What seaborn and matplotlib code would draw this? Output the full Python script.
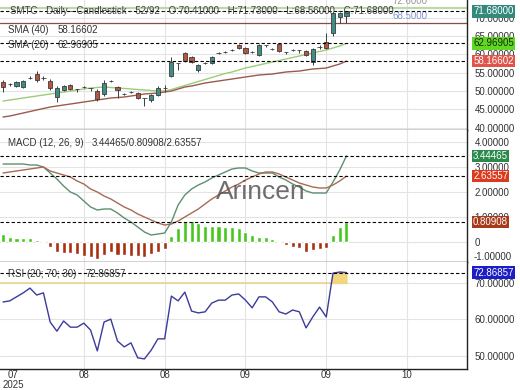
import matplotlib
matplotlib.use("Agg")
import matplotlib.pyplot as plt
from matplotlib.ticker import FuncFormatter
import seaborn as sns
import numpy as np
import pandas as pd

# daily candles (SMTC)
opens = [52.47, 51.90, 51.38, 51.10, 53.50, 54.65, 53.60, 52.74, 48.38, 50.29,
         51.65, 50.60, 51.00, 50.85, 50.01, 49.20, 52.70, 51.10, 49.20, 49.70,
         49.47, 48.15, 47.56, 48.92, 50.80, 54.10, 57.65, 60.37, 59.28, 55.74,
         57.60, 57.64, 60.30, 60.60, 61.20, 62.55, 61.73, 60.60, 59.82, 62.60,
         61.40, 62.82, 60.70, 61.20, 61.20, 60.91, 57.92, 62.00, 63.37, 65.82,
         70.18, 70.41]
highs = [53.01, 52.30, 52.80, 53.00, 54.00, 55.46, 54.00, 53.28, 51.38, 51.70,
         51.90, 50.60, 51.40, 50.90, 50.56, 53.01, 53.10, 51.38, 49.50, 50.10,
         49.74, 48.20, 49.20, 51.38, 51.65, 59.28, 57.70, 60.64, 59.50, 57.37,
         58.00, 59.50, 60.70, 60.90, 61.50, 62.80, 62.00, 60.90, 62.80, 62.60,
         61.80, 63.10, 60.70, 61.50, 61.20, 61.10, 61.70, 62.50, 65.82, 71.50,
         71.60, 71.73]
lows = [49.74, 51.50, 51.10, 50.90, 53.20, 52.47, 53.10, 50.29, 47.02, 50.00,
        50.30, 49.80, 50.70, 50.00, 47.29, 48.65, 52.40, 48.11, 48.90, 49.40,
        47.83, 45.93, 47.00, 48.65, 49.74, 53.83, 55.70, 57.92, 57.70, 55.19,
        57.30, 57.40, 60.10, 60.40, 60.90, 61.50, 60.10, 60.30, 59.60, 61.90,
        61.20, 60.70, 60.00, 60.90, 60.40, 59.60, 57.10, 61.50, 61.50, 65.00,
        68.54, 68.56]
closes = [51.10, 51.95, 52.47, 52.74, 53.60, 53.01, 53.50, 50.83, 50.83, 51.38,
          50.56, 50.50, 51.10, 50.80, 47.83, 52.19, 52.80, 50.29, 49.25, 49.80,
          48.11, 48.10, 48.92, 50.83, 50.90, 57.92, 57.60, 58.19, 57.92, 57.10,
          57.70, 59.28, 60.40, 60.70, 61.25, 61.73, 60.37, 60.70, 62.55, 62.55,
          61.50, 60.91, 60.65, 61.15, 61.15, 59.82, 61.46, 62.10, 61.73, 71.27,
          71.27, 71.68]

sma20 = [47.29, 47.56, 47.83, 48.11, 48.38, 48.65, 48.92, 49.20, 49.47, 49.74,
         50.01, 50.29, 50.56, 50.83, 50.97, 51.10, 50.97, 50.83, 50.70, 50.56,
         50.42, 50.29, 50.15, 50.01, 50.01, 50.42, 50.97, 51.51, 52.06, 52.60,
         53.15, 53.69, 54.24, 54.78, 55.19, 55.74, 56.28, 56.69, 57.10, 57.51,
         57.92, 58.32, 58.73, 59.14, 59.55, 59.96, 60.37, 60.78, 61.19, 61.73,
         62.28, 62.96905]
sma40 = [42.93, 43.20, 43.61, 44.02, 44.43, 44.84, 45.25, 45.65, 45.93, 46.20,
         46.47, 46.74, 47.02, 47.29, 47.56, 47.83, 48.11, 48.24, 48.38, 48.65,
         48.92, 49.20, 49.33, 49.47, 49.74, 50.01, 50.56, 51.10, 51.38, 51.78,
         52.19, 52.47, 52.74, 53.01, 53.28, 53.56, 53.83, 54.10, 54.37, 54.51,
         54.65, 54.92, 55.19, 55.33, 55.46, 55.74, 56.01, 56.14, 56.28, 56.83,
         57.37, 58.16602]

macd = [3.12, 3.12, 3.12, 3.12, 3.08, 3.08, 3.00, 2.76, 2.52, 2.24,
        2.00, 1.88, 1.64, 1.40, 1.28, 1.32, 1.32, 1.16, 0.96, 0.80,
        0.60, 0.40, 0.28, 0.32, 0.36, 0.80, 1.48, 1.88, 2.12, 2.28,
        2.40, 2.56, 2.68, 2.80, 2.92, 2.96, 2.96, 2.84, 2.76, 2.76,
        2.76, 2.60, 2.48, 2.32, 2.20, 2.04, 1.96, 1.96, 1.96, 2.40,
        2.88, 3.44465]
signal = [2.76, 2.80, 2.84, 2.88, 2.92, 2.96, 3.00, 2.84, 2.76, 2.68,
          2.60, 2.44, 2.32, 2.12, 2.00, 1.84, 1.72, 1.56, 1.40, 1.28,
          1.12, 1.00, 0.88, 0.76, 0.68, 0.72, 0.84, 1.00, 1.16, 1.32,
          1.52, 1.72, 1.88, 2.04, 2.20, 2.32, 2.48, 2.60, 2.72, 2.80,
          2.80, 2.72, 2.60, 2.48, 2.36, 2.28, 2.20, 2.16, 2.16, 2.28,
          2.44, 2.63557]
hist = [0.32, 0.20, 0.16, 0.16, 0.16, 0.08, 0.04, -0.20, -0.40, -0.44,
        -0.44, -0.48, -0.56, -0.60, -0.68, -0.52, -0.40, -0.52, -0.52, -0.56,
        -0.56, -0.60, -0.48, -0.40, -0.28, 0.24, 0.56, 0.84, 0.84, 0.76,
        0.64, 0.64, 0.64, 0.60, 0.58, 0.56, 0.40, 0.26, 0.20, 0.20,
        0.12, 0.02, -0.12, -0.20, -0.24, -0.40, -0.32, -0.28, -0.24, 0.28,
        0.60, 0.80908]

rsi = [64.8, 65.1, 66.2, 67.3, 68.6, 66.7, 67.3, 59.3, 56.8, 59.6,
       57.9, 57.9, 59.0, 57.1, 51.4, 59.3, 60.1, 54.1, 52.5, 53.6,
       49.5, 49.2, 51.6, 54.7, 54.7, 66.4, 65.1, 67.5, 62.3, 61.8,
       62.1, 64.5, 65.3, 65.3, 66.7, 67.0, 65.3, 63.2, 66.2, 66.2,
       64.8, 62.1, 61.5, 62.6, 62.1, 57.7, 60.7, 63.4, 60.7, 72.7,
       73.0, 72.86857]

date_ticks = [12, 24, 36, 48, 60]
date_labels = ['08', '08', '09', '09', '10']
first_date_label = '07\n2025'

title = ("SMTC - Daily - Candlestick - 52/92 - O:70.41000 - H:71.73000 - "
         "L:68.56000 - C:71.68000")
level_hi = 72.6
level_mid = 68.5

df = pd.DataFrame({'day': np.arange(len(closes)), 'open': opens, 'high': highs,
                   'low': lows, 'close': closes, 'sma20': sma20, 'sma40': sma40,
                   'macd': macd, 'signal': signal, 'hist': hist, 'rsi': rsi})

sns.set_theme(style='whitegrid')
plt.rcParams['font.family'] = ['Liberation Sans', 'DejaVu Sans']

W, H = 520, 390
fig = plt.figure(figsize=(W / 100, H / 100), dpi=100)


def panel(top, bottom):
    return fig.add_axes([0, 1 - bottom / H, 467 / W, (bottom - top) / H])


ax1 = panel(0, 130)
ax2 = panel(130, 262)
ax3 = panel(262, 369)

xlim = (-0.45, 68.9)
fmt = FuncFormatter(lambda v, p: '0' if abs(v) < 1e-9 else f'{v:.5f}')
for ax in (ax1, ax2, ax3):
    ax.set_xlim(*xlim)
    ax.set_facecolor('white')
    ax.grid(True, color='#e3e3e3', lw=0.8)
    ax.set_axisbelow(True)
    ax.set_xticks(date_ticks)
    ax.yaxis.set_major_formatter(fmt)
    ax.tick_params(axis='y', left=False, right=False, labelleft=False,
                   labelright=True, length=0, pad=5.5, labelsize=7,
                   labelcolor='#333333')
    ax.tick_params(axis='x', which='both', length=0, labelbottom=False)
    for s in ('left', 'top'):
        ax.spines[s].set_visible(False)
    for s in ('right', 'bottom'):
        ax.spines[s].set_color('#222222')
        ax.spines[s].set_linewidth(1.0)
    ax.set_xlabel('')
    ax.set_ylabel('')


def tag(ax, y, txt, bg, fg='white'):
    ax.text(1.013, y, txt, transform=ax.get_yaxis_transform(), ha='left',
            va='center', fontsize=7, color=fg, clip_on=False, zorder=10,
            bbox=dict(boxstyle='square,pad=0.12', fc=bg, ec='none'))


def dashed(ax, y):
    ax.axhline(y, color='black', lw=0.8, ls=(0, (3, 2)), zorder=4)


# ---- price panel
ax1.set_ylim(39.39, 74.81)
ax1.set_yticks([40, 45, 50, 55, 60, 65, 70])
ax1.axhline(level_hi, color='#bcd9a6', lw=1.6, zorder=2)
ax1.axhline(level_mid, color='#8a4d46', lw=0.9, zorder=2)
ax1.text(57.8, level_mid + 0.5, f'{level_mid:.4f}', color='#8595d5',
         fontsize=7, va='bottom')
ax1.text(57.8, level_hi + 0.5, f'{level_hi:.4f}', color='#999999',
         fontsize=7, va='bottom', clip_on=True)

up = df['close'] >= df['open']
cols = np.where(up, '#3f8f88', '#b8553f')
ax1.vlines(df['day'], df['low'], df['high'], color='#3c3c3c', lw=0.7, zorder=3)
ax1.bar(df['day'], (df['close'] - df['open']).abs(),
        bottom=np.minimum(df['open'], df['close']), width=0.62, color=cols,
        edgecolor='#3c3c3c', linewidth=0.6, zorder=3)
sns.lineplot(data=df, x='day', y='sma20', ax=ax1, color='#9ccc78', lw=1.0,
             legend=False, zorder=2)
sns.lineplot(data=df, x='day', y='sma40', ax=ax1, color='#9a5a4e', lw=1.0,
             legend=False, zorder=2)
dashed(ax1, closes[-1])
dashed(ax1, sma20[-1])
dashed(ax1, sma40[-1])
ax1.text(0.021, closes[-1], title, transform=ax1.get_yaxis_transform(),
         fontsize=7, color='#444444', va='center', zorder=5)
ax1.text(0.017, 66.75, 'SMA (40)', transform=ax1.get_yaxis_transform(),
         fontsize=7, color='#333333', va='center')
ax1.text(0.124, 66.75, f'{sma40[-1]:.5f}', transform=ax1.get_yaxis_transform(),
         fontsize=7, color='#333333', va='center')
ax1.text(0.017, 62.5, 'SMA (20)', transform=ax1.get_yaxis_transform(),
         fontsize=7, color='#333333', va='center')
ax1.text(0.124, 62.5, f'{sma20[-1]:.5f}', transform=ax1.get_yaxis_transform(),
         fontsize=7, color='#333333', va='center')
tag(ax1, closes[-1], f'{closes[-1]:.5f}', '#338a7c')
tag(ax1, sma20[-1], f'{sma20[-1]:.5f}', '#5ed820', fg='#1a2a10')
tag(ax1, sma40[-1], f'{sma40[-1]:.5f}', '#e0544a')

# ---- MACD panel
ax2.set_ylim(-0.8, 4.48)
ax2.set_yticks([0, 1, 2, 3, 4])
hcols = np.where(df['hist'] >= 0, '#45c81c', '#a8300f')
ax2.bar(df['day'], df['hist'], width=0.6, color=hcols, zorder=3)
sns.lineplot(data=df, x='day', y='macd', ax=ax2, color='#5d8f70', lw=1.0,
             legend=False, zorder=4)
sns.lineplot(data=df, x='day', y='signal', ax=ax2, color='#a86a52', lw=1.0,
             legend=False, zorder=4)
dashed(ax2, macd[-1])
dashed(ax2, signal[-1])
dashed(ax2, hist[-1])
ax2.text(0.5575, 0.53, 'Arincen', transform=ax2.transAxes, fontsize=19,
         color='#555555', alpha=0.85, ha='center', va='center', zorder=6)
ax2.text(0.017, 3.96, 'MACD (12, 26, 9)', transform=ax2.get_yaxis_transform(),
         fontsize=7, color='#333333', va='center')
ax2.text(0.197, 3.96, f'{macd[-1]:.5f}/{hist[-1]:.5f}/{signal[-1]:.5f}',
         transform=ax2.get_yaxis_transform(), fontsize=7, color='#333333',
         va='center')
ax2.text(1.013, -0.6, '-1.00000', transform=ax2.get_yaxis_transform(),
         fontsize=7, color='#333333', va='center', clip_on=False)
tag(ax2, macd[-1], f'{macd[-1]:.5f}', '#2a8a4c')
tag(ax2, signal[-1], f'{signal[-1]:.5f}', '#dc3a1e')
tag(ax2, hist[-1], f'{hist[-1]:.5f}', '#a83a1c')

# ---- RSI panel
ax3.set_ylim(46.44, 75.75)
ax3.set_yticks([50, 60, 70])
rsi_arr = df['rsi'].to_numpy()
ax3.fill_between(df['day'], 70, rsi_arr, where=rsi_arr >= 70, interpolate=True,
                 color='#f4d77c', zorder=2)
ax3.hlines(70, xlim[0], df['day'].iloc[-1], color='#ead58e', lw=1.2, zorder=2)
sns.lineplot(data=df, x='day', y='rsi', ax=ax3, color='#3b3b9c', lw=1.0,
             legend=False, zorder=4)
dashed(ax3, rsi[-1])
ax3.text(0.017, 72.5, 'RSI (20; 70; 30)', transform=ax3.get_yaxis_transform(),
         fontsize=7, color='#333333', va='center', zorder=5)
ax3.text(0.182, 72.5, f'{rsi[-1]:.5f}', transform=ax3.get_yaxis_transform(),
         fontsize=7, color='#333333', va='center', zorder=5)
tag(ax3, rsi[-1], f'{rsi[-1]:.5f}', '#1c1cc8')

ax3.set_xticks(date_ticks)
ax3.set_xticklabels(date_labels)
ax3.set_xticks([1.5], minor=True)
ax3.set_xticklabels([first_date_label], minor=True)
ax3.tick_params(axis='x', which='both', labelbottom=True, pad=1, labelsize=7,
                labelcolor='#333333')
for lab in ax3.get_xticklabels(minor=True):
    lab.set_linespacing(0.9)

fig.savefig('out.png', dpi=100)
